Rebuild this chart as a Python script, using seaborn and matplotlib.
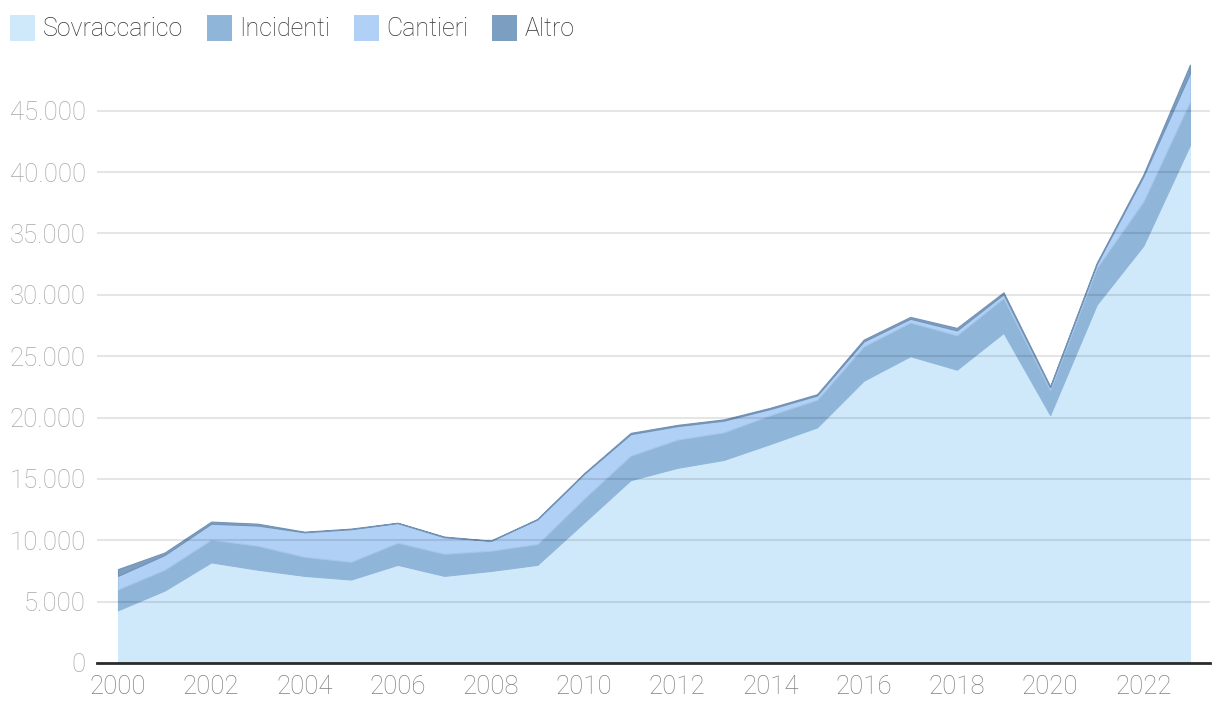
import matplotlib
matplotlib.use("Agg")
import matplotlib.pyplot as plt
import matplotlib.ticker as mticker
from matplotlib.patches import Patch
import seaborn as sns
import numpy as np

years = list(range(2000, 2024))
series_names = ["Sovraccarico", "Incidenti", "Cantieri", "Altro"]
sovraccarico = [4300, 5900, 8200, 7600, 7100, 6800, 8000, 7100, 7500, 8000, 11450, 14900,
                15900, 16550, 17850, 19200, 23000, 25000, 23900, 26900, 20200, 29200, 34000, 42200]
incidenti = [1700, 1700, 1850, 1950, 1550, 1450, 1800, 1800, 1650, 1700, 1950, 2000,
             2300, 2250, 2350, 2250, 2800, 2750, 2800, 2850, 2050, 3000, 3600, 3550]
cantieri = [1100, 1200, 1300, 1650, 2000, 2650, 1600, 1350, 800, 2000, 2000, 1750,
            1100, 950, 500, 350, 400, 300, 400, 300, 200, 300, 2050, 2300]
altro = [550, 200, 170, 150, 50, 50, 30, 50, 20, 40, 60, 100,
         100, 100, 100, 100, 150, 150, 200, 150, 100, 100, 150, 700]
yticks = [0, 5000, 10000, 15000, 20000, 25000, 30000, 35000, 40000, 45000]
xticks = list(range(2000, 2023, 2))

colors = ["#cfe9fb", "#8fb5d9", "#b0d0f5", "#7c9ec0"]
edge_colors = ["#cfe9fb", "#8fb5d9", "#a6c6ec", "#7393b6"]

sns.set_theme(style="white")
plt.rcParams["font.family"] = ["Roboto", "DejaVu Sans"]

fig = plt.figure(figsize=(12.2, 7.18), dpi=100)
ax = fig.add_axes([97 / 1220, 55 / 718, (1210 - 97) / 1220, (663 - 53) / 718])

palette = sns.color_palette(colors)
polys = ax.stackplot(years, sovraccarico, incidenti, cantieri, altro,
                     colors=palette, linewidth=0.8, alpha=1.0)
for p, ec in zip(polys, edge_colors):
    p.set_edgecolor(ec)

ax.set_xlim(1999.55, 2023.43)
ax.set_ylim(0, 49700)
ax.set_yticks(yticks)
ax.set_xticks(xticks)
ax.yaxis.set_major_formatter(mticker.FuncFormatter(lambda v, _: f"{int(v):,}".replace(",", ".")))

ax.grid(axis="y", color="#000000", alpha=0.10, linewidth=1.5)
ax.grid(axis="x", visible=False)
ax.set_axisbelow(False)

for s in ["top", "right", "left"]:
    ax.spines[s].set_visible(False)
ax.spines["bottom"].set_color("#2b2b2b")
ax.spines["bottom"].set_linewidth(2)
ax.spines["bottom"].set_zorder(5)

ax.tick_params(axis="y", length=0, pad=8, labelsize=18.5, labelcolor="#a8a8a8")
ax.tick_params(axis="x", length=0, pad=9, labelsize=18.5, labelcolor="#808080")
for lbl in ax.get_yticklabels() + ax.get_xticklabels():
    lbl.set_fontweight("light")

handles = [Patch(facecolor=c, edgecolor="none") for c in colors]
leg = fig.legend(handles, series_names, loc="upper left", bbox_to_anchor=(-0.004, 1.0),
                 ncol=4, frameon=False, fontsize=18, handlelength=1.0, handleheight=1.2,
                 handletextpad=0.3, columnspacing=0.95, borderaxespad=0.2)
for t in leg.get_texts():
    t.set_color("#333333")
    t.set_fontweight("light")

fig.savefig("out.png", dpi=100)
